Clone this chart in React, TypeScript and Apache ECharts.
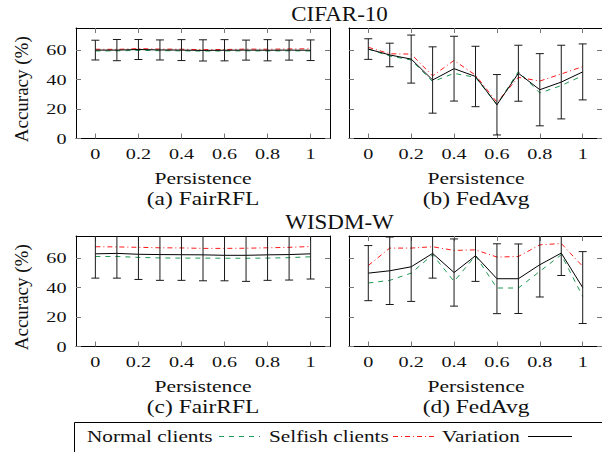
import React, { useEffect, useRef } from 'react';
import * as echarts from 'echarts';

// ---------- data ----------
const persistence = [0, 0.1, 0.2, 0.3, 0.4, 0.5, 0.6, 0.7, 0.8, 0.9, 1];
const xTickValues = [0, 0.2, 0.4, 0.6, 0.8, 1];
const xTickLabels = ['0', '0.2', '0.4', '0.6', '0.8', '1'];
const yTickValues = [0, 20, 40, 60];
const yTickLabels = ['0', '20', '40', '60'];

const datasetTitles = ['CIFAR-10', 'WISDM-W'];
const panelCaptions = ['(a) FairRFL', '(b) FedAvg', '(c) FairRFL', '(d) FedAvg'];
const legendNames = ['Normal clients', 'Selfish clients', 'Variation'];
const xAxisTitle = 'Persistence';
const yAxisTitle = 'Accuracy (%)';

// (a) CIFAR-10, FairRFL
const cifarFairNormal = [59.4, 59.5, 59.8, 59.6, 59.5, 59.3, 59.4, 59.5, 59.4, 59.5, 59.4];
const cifarFairSelfish = [60.6, 60.5, 61.0, 60.7, 60.6, 60.3, 60.4, 60.7, 60.6, 60.8, 60.9];
const cifarFairVariation = [60.0, 60.0, 60.4, 60.1, 60.0, 59.8, 59.9, 60.0, 59.9, 60.0, 59.9];
const cifarFairStd = [6.7, 7.2, 6.8, 6.8, 7.1, 7.2, 7.2, 6.8, 7.2, 6.8, 7.0];

// (b) CIFAR-10, FedAvg
const cifarAvgNormal = [60.7, 56.0, 53.3, 38.6, 44.2, 41.5, 23.0, 45.4, 30.9, 35.9, 42.7];
const cifarAvgSelfish = [61.9, 57.5, 57.3, 42.5, 53.0, 43.0, 24.6, 41.5, 39.0, 43.8, 48.8];
const cifarAvgVariation = [60.7, 56.7, 53.9, 39.7, 47.4, 42.1, 22.9, 44.3, 33.1, 38.3, 45.2];
const cifarAvgStd = [7.0, 8.0, 16.3, 22.5, 22.0, 20.5, 20.5, 19.0, 24.5, 25.0, 19.0];

// (c) WISDM-W, FairRFL
const wisdmFairNormal = [61.1, 61.1, 60.5, 60.1, 60.0, 60.0, 59.9, 59.9, 60.0, 60.3, 60.9];
const wisdmFairSelfish = [67.7, 67.6, 67.3, 67.0, 66.9, 66.6, 66.6, 66.7, 67.0, 67.3, 67.9];
const wisdmFairVariation = [62.9, 63.2, 62.6, 62.4, 62.3, 62.2, 61.9, 61.9, 62.2, 62.4, 62.9];
const wisdmFairStd = [16.5, 16.8, 17.1, 17.5, 17.4, 17.6, 17.3, 17.7, 17.3, 17.3, 17.1];

// (d) WISDM-W, FedAvg
const wisdmAvgNormal = [43.1, 44.9, 49.8, 62.3, 44.2, 61.6, 39.7, 39.7, 51.0, 62.3, 34.0];
const wisdmAvgSelfish = [55.0, 66.8, 66.8, 67.7, 65.2, 65.6, 60.7, 61.1, 69.0, 69.9, 54.4];
const wisdmAvgVariation = [49.8, 51.4, 54.1, 63.2, 50.2, 61.6, 46.0, 46.0, 55.5, 63.4, 40.0];
const wisdmAvgStd = [18.7, 22.9, 23.5, 16.8, 22.8, 17.4, 23.7, 23.6, 21.9, 15.2, 24.4];

const panels = [
  { normal: cifarFairNormal, selfish: cifarFairSelfish, variation: cifarFairVariation, std: cifarFairStd },
  { normal: cifarAvgNormal, selfish: cifarAvgSelfish, variation: cifarAvgVariation, std: cifarAvgStd },
  { normal: wisdmFairNormal, selfish: wisdmFairSelfish, variation: wisdmFairVariation, std: wisdmFairStd },
  { normal: wisdmAvgNormal, selfish: wisdmAvgSelfish, variation: wisdmAvgVariation, std: wisdmAvgStd },
];

// ---------- layout / style ----------
const X_MIN = -0.09;
const X_MAX = 1.09;
const Y_MIN = 0;
const Y_MAX = 75;
const LEFTS = [76, 349];
const TOPS = [28, 236];
const GRID_W = 254;
const GRID_H = 110.5;
const GREEN = '#1f9a55';
const RED = '#ff1a1a';
const BLACK = '#000000';
const TICK_COLOR = '#777777';
const FONT = 'Liberation Serif';
const NORMAL_DASH = [5, 5];
const SELFISH_DASH = [5, 3, 1, 3];

function txt(x: number, y: number, text: string, size: number, sx: number, align: string, extra: any = {}) {
  return {
    type: 'text',
    x,
    y,
    scaleX: sx,
    silent: true,
    z: 100,
    ...extra,
    style: {
      text,
      fill: '#111',
      font: `${size}px ${FONT}`,
      fontSize: size,
      fontFamily: FONT,
      textAlign: align,
      align,
      textVerticalAlign: 'middle',
      verticalAlign: 'middle',
    },
  };
}

export default function App() {
  const ref = useRef<HTMLDivElement>(null);

  useEffect(() => {
    document.body.style.margin = '0';
    const chart = echarts.init(ref.current!, null, { renderer: 'svg' });

    const grid: any[] = [];
    const xAxis: any[] = [];
    const yAxis: any[] = [];
    const series: any[] = [];

    panels.forEach((p, i) => {
      grid.push({ left: LEFTS[i % 2], top: TOPS[Math.floor(i / 2)], width: GRID_W, height: GRID_H });
      ['bottom', 'top'].forEach((pos) => {
        xAxis.push({
          type: 'value',
          gridIndex: i,
          position: pos,
          min: X_MIN,
          max: X_MAX,
          axisLine: { show: true, onZero: false, lineStyle: { color: BLACK, width: 1 } },
          axisTick: { show: true, inside: true, length: 5, lineStyle: { color: TICK_COLOR, width: 1 }, customValues: xTickValues },
          axisLabel: { show: false, customValues: xTickValues },
          splitLine: { show: false },
        });
      });
      ['left', 'right'].forEach((pos) => {
        yAxis.push({
          type: 'value',
          gridIndex: i,
          position: pos,
          min: Y_MIN,
          max: Y_MAX,
          axisLine: { show: true, onZero: false, lineStyle: { color: BLACK, width: 1 } },
          axisTick: { show: true, inside: true, length: 5, lineStyle: { color: TICK_COLOR, width: 1 }, customValues: yTickValues },
          axisLabel: { show: false, customValues: yTickValues },
          splitLine: { show: false },
        });
      });

      const xi = 2 * i;
      const common = { type: 'line', xAxisIndex: xi, yAxisIndex: xi, symbol: 'none', showSymbol: false, silent: true };
      series.push({
        ...common,
        name: legendNames[0],
        z: 2,
        data: persistence.map((x, k) => [x, p.normal[k]]),
        lineStyle: { color: GREEN, width: 1, type: NORMAL_DASH },
      });
      series.push({
        ...common,
        name: legendNames[1],
        z: 3,
        data: persistence.map((x, k) => [x, p.selfish[k]]),
        lineStyle: { color: RED, width: 1, type: SELFISH_DASH },
      });
      series.push({
        ...common,
        name: legendNames[2],
        z: 4,
        data: persistence.map((x, k) => [x, p.variation[k]]),
        lineStyle: { color: BLACK, width: 1 },
      });
      series.push({
        type: 'custom',
        xAxisIndex: xi,
        yAxisIndex: xi,
        silent: true,
        z: 5,
        encode: { x: 0, y: 1 },
        data: persistence.map((x, k) => [x, p.variation[k], p.std[k]]),
        renderItem: (params: any, api: any) => {
          const x = api.value(0);
          const m = api.value(1);
          const s = api.value(2);
          const hiV = m + s;
          const loV = m - s;
          const hi = api.coord([x, Math.min(hiV, Y_MAX)]);
          const lo = api.coord([x, Math.max(loV, Y_MIN)]);
          const st = { stroke: '#1a1a1a', lineWidth: 1 };
          const children: any[] = [
            { type: 'line', shape: { x1: hi[0], y1: hi[1], x2: lo[0], y2: lo[1] }, style: st },
          ];
          if (hiV <= Y_MAX) children.push({ type: 'line', shape: { x1: hi[0] - 4, y1: hi[1], x2: hi[0] + 4, y2: hi[1] }, style: st });
          if (loV >= Y_MIN) children.push({ type: 'line', shape: { x1: lo[0] - 4, y1: lo[1], x2: lo[0] + 4, y2: lo[1] }, style: st });
          return { type: 'group', children };
        },
      });
    });

    chart.setOption({
      animation: false,
      backgroundColor: '#ffffff',
      grid,
      xAxis,
      yAxis,
      series,
    });

    // texts, positioned through the axes' own scales
    const g: any[] = [];
    datasetTitles.forEach((t, r) => {
      g.push(txt((LEFTS[0] + LEFTS[1] + GRID_W) / 2, TOPS[r] - 13.5, t, 20, 1.15, 'center'));
    });
    panels.forEach((_, i) => {
      const xi = 2 * i;
      const left = LEFTS[i % 2];
      const top = TOPS[Math.floor(i / 2)];
      const bottom = top + GRID_H;
      const cx = left + GRID_W / 2;
      xTickValues.forEach((v, k) => {
        const px = chart.convertToPixel({ xAxisIndex: xi }, v) as number;
        g.push(txt(px, bottom + 15, xTickLabels[k], 15.5, 1.3, 'center'));
      });
      if (i % 2 === 0) {
        yTickValues.forEach((v, k) => {
          const py = chart.convertToPixel({ yAxisIndex: xi }, v) as number;
          g.push(txt(left - 9.5, py, yTickLabels[k], 15.5, 1.3, 'right'));
        });
        g.push(txt(21, top + GRID_H / 2 + 6, yAxisTitle, 19, 1, 'center', { rotation: Math.PI / 2 }));
      }
      g.push(txt(cx, bottom + 40, xAxisTitle, 17, 1.27, 'center'));
      g.push(txt(cx, bottom + 60, panelCaptions[i], 18, 1.3, 'center'));
    });

    // legend box
    const ly = 436.5;
    g.push({ type: 'rect', silent: true, shape: { x: 74.5, y: 422.5, width: 560, height: 60 }, style: { fill: 'none', stroke: '#000', lineWidth: 1 } });
    g.push(txt(87, ly, legendNames[0], 17, 1.25, 'left'));
    g.push({ type: 'line', silent: true, shape: { x1: 219, y1: ly, x2: 260, y2: ly }, style: { stroke: GREEN, lineWidth: 1, lineDash: NORMAL_DASH } });
    g.push(txt(269, ly, legendNames[1], 17, 1.25, 'left'));
    g.push({ type: 'line', silent: true, shape: { x1: 393, y1: ly, x2: 435, y2: ly }, style: { stroke: RED, lineWidth: 1, lineDash: SELFISH_DASH } });
    g.push(txt(442, ly, legendNames[2], 17, 1.25, 'left'));
    g.push({ type: 'line', silent: true, shape: { x1: 528, y1: ly, x2: 572, y2: ly }, style: { stroke: BLACK, lineWidth: 1 } });

    chart.setOption({ graphic: { elements: g } });

    return () => {
      chart.dispose();
    };
  }, []);

  return <div ref={ref} style={{ position: 'absolute', left: 0, top: 0, width: 602, height: 452 }} />;
}
